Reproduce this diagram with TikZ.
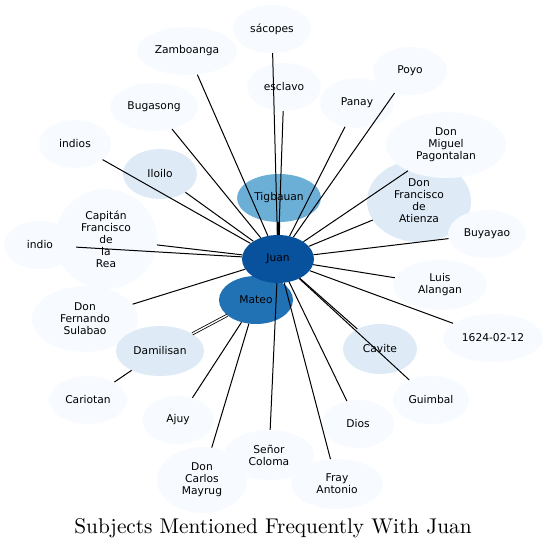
\documentclass[tikz,border=0pt]{standalone}
\usepackage{fontspec}
\newfontfamily\labelfont{DejaVu Sans}
\newfontfamily\titlefont[Extension=.otf]{lmroman10-regular}
\usetikzlibrary{shapes.geometric}

\definecolor{blueA}{HTML}{F7FBFF}
\definecolor{blueB}{HTML}{DEEBF7}
\definecolor{blueC}{HTML}{6BAED6}
\definecolor{blueD}{HTML}{2171B5}
\definecolor{blueE}{HTML}{08519C}

\begin{document}
\begin{tikzpicture}[x=1pt,y=-1pt,
    subject/.style={ellipse,fill=blueA,inner sep=0pt,align=center,
        font=\labelfont\fontsize{10.7}{12}\selectfont},
    link/.style={draw=black,line width=1pt}]
        \useasboundingbox (0,0) rectangle (548,549);

        % outer subjects
        \node[subject,minimum width=78,minimum height=48] (sacopes) at (272,29) {sácopes};
        \node[subject,minimum width=100,minimum height=48] (zamboanga) at (187,51) {Zamboanga};
        \node[subject,minimum width=74,minimum height=48] (esclavo) at (284,87) {esclavo};
        \node[subject,minimum width=74,minimum height=48] (poyo) at (410,71) {Poyo};
        \node[subject,minimum width=74,minimum height=50] (panay) at (357,103) {Panay};
        \node[subject,minimum width=88,minimum height=48] (bugasong) at (154,107) {Bugasong};
        \node[subject,minimum width=72,minimum height=48] (indios) at (75,144) {indios};
        \node[subject,fill=blueB,minimum width=74,minimum height=50] (iloilo) at (160,174) {Iloilo};
        \node[subject,fill=blueB,minimum width=104,minimum height=82] (atienza) at (419,201) {Don\\Francisco\\de\\Atienza};
        \node[subject,minimum width=120,minimum height=66] (pagontalan) at (446,145) {Don\\Miguel\\Pagontalan};
        \node[subject,minimum width=78,minimum height=48] (buyayao) at (487,234) {Buyayao};
        \node[subject,minimum width=72,minimum height=48] (indio) at (40,245) {indio};
        \node[subject,minimum width=102,minimum height=100] (rea) at (106,239) {Capitán\\Francisco\\de\\la\\Rea};
        \node[subject,minimum width=94,minimum height=50] (alangan) at (440,285) {Luis\\Alangan};
        \node[subject,minimum width=100,minimum height=48] (date) at (493,338) {1624-02-12};
        \node[subject,minimum width=106,minimum height=66] (sulabao) at (85,319) {Don\\Fernando\\Sulabao};
        \node[subject,fill=blueB,minimum width=88,minimum height=50] (damilisan) at (160,351) {Damilisan};
        \node[subject,fill=blueB,minimum width=74,minimum height=50] (cavite) at (380,349) {Cavite};
        \node[subject,minimum width=78,minimum height=48] (cariotan) at (88,400) {Cariotan};
        \node[subject,minimum width=76,minimum height=48] (guimbal) at (431,400) {Guimbal};
        \node[subject,minimum width=72,minimum height=48] (ajuy) at (178,420) {Ajuy};
        \node[subject,minimum width=72,minimum height=48] (dios) at (358,424) {Dios};
        \node[subject,minimum width=90,minimum height=66] (mayrug) at (202,480) {Don\\Carlos\\Mayrug};
        \node[subject,minimum width=90,minimum height=50] (coloma) at (269,455) {Señor\\Coloma};
        \node[subject,minimum width=92,minimum height=50] (antonio) at (337,484) {Fray\\Antonio};

        % inner subjects
        \node[subject,fill=blueC,minimum width=84,minimum height=48] (tigbauan) at (279,198) {Tigbauan};
        \node[subject,fill=blueD,minimum width=74,minimum height=48] (mateo) at (256,300) {Mateo};
        \node[subject,fill=blueE,minimum width=72,minimum height=48] (juan) at (278,259) {Juan};

        % links from Juan
        \draw[link,line width=3pt] (juan) -- (tigbauan);
        \foreach \n in {sacopes,zamboanga,esclavo,poyo,panay,bugasong,indios,iloilo,
            atienza,pagontalan,buyayao,indio,rea,alangan,date,sulabao,cavite,
            guimbal,dios,coloma,antonio}
            \draw[link] (juan) -- (\n);

        % links from Mateo
        \draw[link,double,double distance=1.4pt,line width=0.8pt] (mateo) -- (damilisan);
        \draw[link] (mateo) -- (ajuy);
        \draw[link] (mateo) -- (mayrug);

        % other
        \draw[link] (damilisan) -- (cariotan);

        % title
        \node[anchor=base,font=\titlefont\fontsize{21.3}{25}\selectfont] (title) at (273,533) {Subjects Mentioned Frequently With Juan};
    \end{tikzpicture}
\end{document}
